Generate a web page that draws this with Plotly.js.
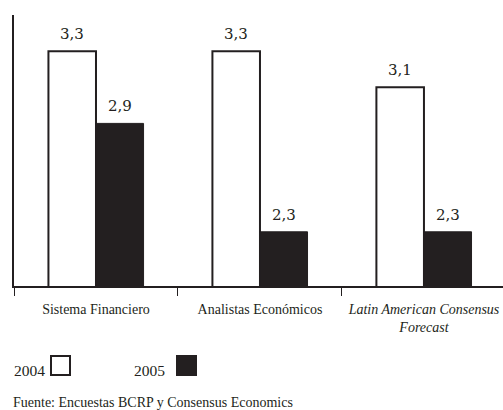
<!DOCTYPE html>
<html>
<head>
<meta charset="utf-8">
<script src="https://cdn.plot.ly/plotly-3.0.1.min.js"></script>
<style>html,body{margin:0;padding:0;background:#fff;}</style>
</head>
<body>
<div id="chart" style="width:503px;height:410px;"></div>
<script>
const categories = ['Sistema Financiero', 'Analistas Económicos', '<i>Latin American Consensus<br>Forecast</i>'];
const seriesNames = ['2004', '2005'];
const values2004 = [3.3, 3.3, 3.1];
const values2005 = [2.9, 2.3, 2.3];
const sourceText = 'Fuente: Encuestas BCRP y Consensus Economics';

const ink = '#231f20';
const serif = 'Liberation Serif, Times New Roman, serif';
const W = 503, H = 410;
const M = {l: 14, r: 0, t: 15, b: 124};
const plotW = W - M.l - M.r, plotH = H - M.t - M.b;
const px = p => (p - M.l) / plotW;          // pixel x -> paper
const py = p => (H - M.b - p) / plotH;      // pixel y -> paper

const bargap = 0.42;
const half = (1 - bargap) / 4;               // half of one bar width in category units
const fmt = v => v.toFixed(1).replace('.', ',');

const traces = [
  {type: 'bar', name: seriesNames[0], x: categories, y: values2004,
   marker: {color: '#ffffff', line: {color: ink, width: 2}}, hoverinfo: 'skip'},
  {type: 'bar', name: seriesNames[1], x: categories, y: values2005,
   marker: {color: ink, line: {color: ink, width: 1}}, hoverinfo: 'skip'}
];

const annotations = [];
[values2004, values2005].forEach((vals, s) => {
  vals.forEach((v, i) => {
    annotations.push({x: i + (s === 0 ? -half : half), y: v, xref: 'x', yref: 'y',
      text: fmt(v), showarrow: false, yanchor: 'bottom', yshift: 6,
      font: {family: 'DejaVu Serif, serif', size: 15, color: ink}});
  });
});
// legend (text left of swatch) and source
annotations.push({x: px(12), y: py(370), xref: 'paper', yref: 'paper', xanchor: 'left', yanchor: 'middle',
  text: seriesNames[0], showarrow: false, font: {family: serif, size: 15.5, color: ink}});
annotations.push({x: px(132), y: py(370), xref: 'paper', yref: 'paper', xanchor: 'left', yanchor: 'middle',
  text: seriesNames[1], showarrow: false, font: {family: serif, size: 15.5, color: ink}});
annotations.push({x: px(11), y: py(402), xref: 'paper', yref: 'paper', xanchor: 'left', yanchor: 'middle',
  text: sourceText, showarrow: false, font: {family: serif, size: 14, color: ink}});

const shapes = [
  {type: 'rect', xref: 'paper', yref: 'paper', x0: px(51), x1: px(70), y0: py(375), y1: py(356),
   fillcolor: '#ffffff', line: {color: ink, width: 2}},
  {type: 'rect', xref: 'paper', yref: 'paper', x0: px(176), x1: px(197), y0: py(376), y1: py(355),
   fillcolor: ink, line: {color: ink, width: 0}}
];

const layout = {
  width: W, height: H,
  margin: M,
  paper_bgcolor: '#ffffff', plot_bgcolor: '#ffffff',
  showlegend: false,
  barmode: 'group', bargap: bargap, bargroupgap: 0,
  font: {family: serif, color: ink},
  xaxis: {type: 'category', range: [-0.5, 2.482],
    showline: true, linecolor: ink, linewidth: 2,
    ticks: 'outside', tickson: 'boundaries', ticklen: 8, tickwidth: 1, tickcolor: ink,
    ticklabelstandoff: 9,
    showgrid: false, zeroline: false, fixedrange: true,
    tickfont: {family: serif, size: 14, color: ink}},
  yaxis: {range: [2, 3.5], showline: true, linecolor: ink, linewidth: 2,
    showticklabels: false, ticks: '', showgrid: false, zeroline: false, fixedrange: true},
  annotations: annotations,
  shapes: shapes
};

Plotly.newPlot('chart', traces, layout, {displayModeBar: false, staticPlot: true});
</script>
</body>
</html>
